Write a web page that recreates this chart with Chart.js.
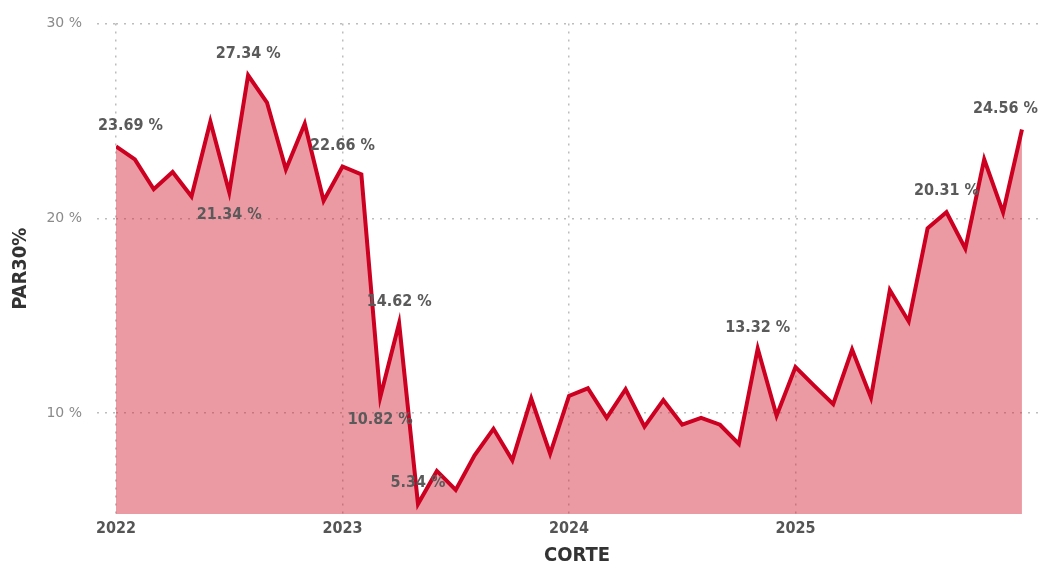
<!DOCTYPE html>
<html>
<head>
<meta charset="utf-8">
<script src="https://cdn.jsdelivr.net/npm/chart.js@4.4.1/dist/chart.umd.min.js"></script>
<style>
  html, body { margin: 0; padding: 0; background: #ffffff; }
  #wrap { width: 1046px; height: 571px; position: relative; }
</style>
</head>
<body>
<div id="wrap"><canvas id="c" width="1046" height="571"></canvas></div>
<script>
// ---- Data (monthly PAR30%, Jan 2022 .. Jan 2026) ----
const par30 = [
  23.69, 23.02, 21.49, 22.38, 21.12, 24.97, 21.34, 27.34, 25.94, 22.51, 24.85, 20.90,
  22.66, 22.25, 10.82, 14.62, 5.34, 7.04, 6.06, 7.84, 9.20, 7.58, 10.75, 7.92,
  10.89, 11.28, 9.76, 11.23, 9.31, 10.67, 9.41, 9.76, 9.41, 8.43, 13.32, 9.87,
  12.37, 11.40, 10.47, 13.27, 10.80, 16.32, 14.71, 19.49, 20.31, 18.44, 23.02, 20.30,
  24.56
];
const yearLabels = ['2022', '2023', '2024', '2025'];
const yearTickIndex = [0, 12, 24, 36];
const yTickValues = [10, 20, 30];
const labeledIndex = [0, 6, 7, 12, 14, 15, 16, 34, 44, 48];
const labeledSide  = ['above', 'below', 'above', 'above', 'below', 'above', 'above', 'above', 'above', 'above'];

const points = par30.map((v, i) => ({ x: i, y: v }));

const COND = "'DejaVu Sans Condensed', 'Liberation Sans Narrow', 'DejaVu Sans', sans-serif";

const dataLabelPlugin = {
  id: 'dataLabels',
  afterDatasetsDraw(chart) {
    const ctx = chart.ctx;
    const meta = chart.getDatasetMeta(0);
    const area = chart.chartArea;
    ctx.save();
    ctx.font = "bold 16px " + COND;
    ctx.fillStyle = '#5a5a5a';
    ctx.textBaseline = 'middle';
    ctx.textAlign = 'left';
    labeledIndex.forEach((idx, k) => {
      const el = meta.data[idx];
      const txt = par30[idx].toFixed(2) + ' %';
      const w = ctx.measureText(txt).width;
      let left = el.x - w / 2;
      if (left < area.left - 18) left = area.left - 18;
      if (left + w > area.right) left = area.right - w;
      const y = labeledSide[k] === 'above' ? el.y - 21 : el.y + 23;
      ctx.fillText(txt, left, y);
    });
    ctx.restore();
  }
};

const gridColor = '#bdbdbd';

new Chart(document.getElementById('c'), {
  type: 'line',
  data: {
    datasets: [{
      data: points,
      borderColor: '#cc0020',
      backgroundColor: 'rgba(210, 30, 50, 0.45)',
      borderWidth: 4,
      fill: 'start',
      tension: 0,
      pointRadius: 0,
      pointHoverRadius: 0
    }]
  },
  options: {
    responsive: false,
    animation: false,
    events: [],
    layout: { padding: { top: 20, right: 8, bottom: 0, left: 0 } },
    plugins: {
      legend: { display: false },
      tooltip: { enabled: false }
    },
    scales: {
      x: {
        type: 'linear',
        min: 0,
        max: 48.85,
        afterBuildTicks(scale) { scale.ticks = yearTickIndex.map(v => ({ value: v })); },
        afterFit(scale) { scale.height = 57; },
        border: { display: false, dash: [2, 6] },
        grid: {
          color: gridColor,
          lineWidth: 1.5,
          drawTicks: false
        },
        ticks: {
          padding: 5,
          color: '#555555',
          font: { family: COND, size: 16, weight: 'bold' },
          maxRotation: 0,
          autoSkip: false,
          callback(v) { const i = yearTickIndex.indexOf(v); return i >= 0 ? yearLabels[i] : ''; }
        },
        title: {
          display: true,
          text: 'CORTE',
          color: '#333333',
          font: { family: COND, size: 20, weight: 'bold', lineHeight: 1.2 },
          padding: { top: 0, bottom: 3 }
        }
      },
      y: {
        type: 'linear',
        min: 4.83,
        max: 30,
        afterBuildTicks(scale) { scale.ticks = yTickValues.map(v => ({ value: v })); },
        afterFit(scale) { scale.width = 116; },
        border: { display: false, dash: [2, 6] },
        grid: {
          color: gridColor,
          lineWidth: 1.5,
          drawTicks: true,
          tickLength: 19,
          tickColor: gridColor,
          tickBorderDash: [2, 6]
        },
        ticks: {
          padding: 15,
          color: '#8a8a8a',
          font: { family: "'DejaVu Sans', sans-serif", size: 14 },
          callback(v) { return v + ' %'; }
        },
        title: {
          display: true,
          text: 'PAR30%',
          color: '#333333',
          font: { family: COND, size: 20, weight: 'bold', lineHeight: 1.2 },
          padding: { top: 9, bottom: 0 }
        }
      }
    }
  },
  plugins: [dataLabelPlugin]
});
</script>
</body>
</html>
